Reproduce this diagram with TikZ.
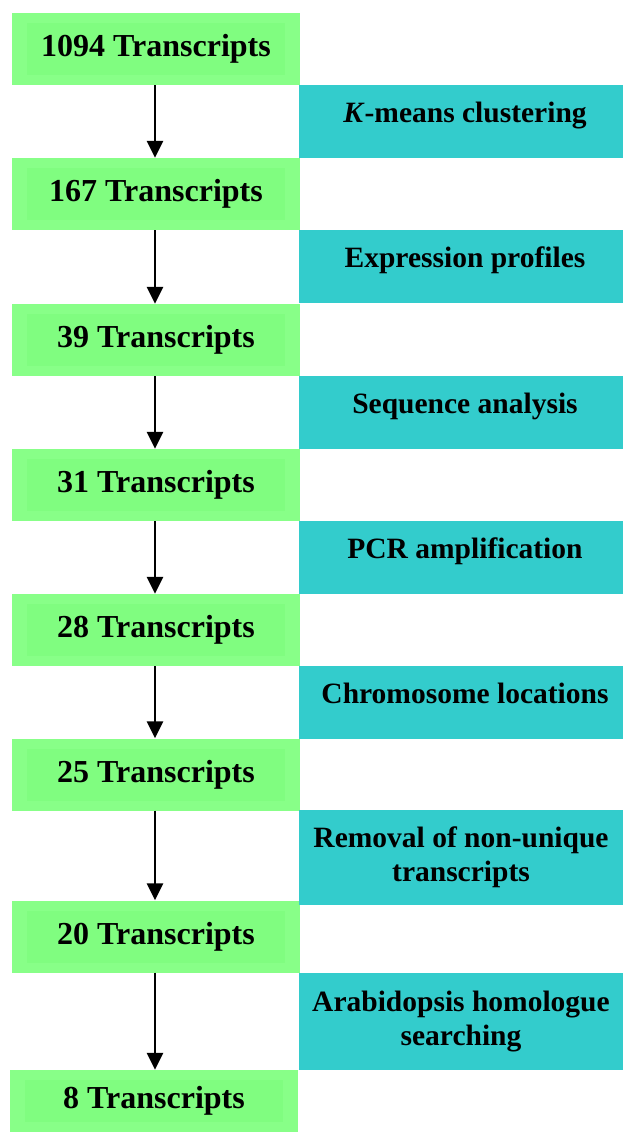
\documentclass[tikz,border=0pt]{standalone}
\usepackage{fontspec}
\setmainfont{Liberation Serif}
\usetikzlibrary{arrows.meta}
\definecolor{gout}{HTML}{88FF88}
\definecolor{ginn}{HTML}{80FD80}
\definecolor{teal}{HTML}{33CCCC}
\tikzset{
  gbox/.style={fill=gout, minimum width=288pt, minimum height=72pt, inner sep=0pt,
    font=\fontsize{32}{36}\selectfont\bfseries,
    path picture={\fill[ginn] ([xshift=15pt,yshift=-10pt]path picture bounding box.north west) rectangle ([xshift=-15pt,yshift=10pt]path picture bounding box.south east);}},
  tbox/.style={fill=teal, minimum width=324pt, minimum height=73pt, inner sep=0pt,
    align=center, font=\fontsize{29.5}{34}\selectfont\bfseries},
  tone/.style={tbox, text depth=18pt},
  flow/.style={line width=2.5pt, -{Triangle[width=16pt,length=17pt]}}
}
\begin{document}
\begin{tikzpicture}[x=1pt,y=-1pt]
\useasboundingbox (0,0) rectangle (623,1133);
\node[gbox] (g1) at (156,49) {1094 Transcripts};
\node[gbox] (g2) at (156,194) {167 Transcripts};
\node[gbox] (g3) at (156,340) {39 Transcripts};
\node[gbox] (g4) at (156,485) {31 Transcripts};
\node[gbox] (g5) at (156,630) {28 Transcripts};
\node[gbox] (g6) at (156,774.5) {25 Transcripts};
\node[gbox] (g7) at (156,936.5) {20 Transcripts};
\node[gbox, minimum height=62pt] (g8) at (154,1101) {8 Transcripts};
\node[tone] (t1) at (461,121.5) {\hspace*{8pt}\textit{K}-means clustering};
\node[tone] (t2) at (461,266.5) {\hspace*{8pt}Expression profiles};
\node[tone] (t3) at (461,412.5) {\hspace*{8pt}Sequence analysis};
\node[tone] (t4) at (461,557.5) {\hspace*{8pt}PCR amplification};
\node[tone] (t5) at (461,702.5) {\hspace*{8pt}Chromosome locations};
\node[tbox, minimum height=95pt] (t6) at (461,857.5) {Removal of non-unique\\transcripts};
\node[tbox, minimum height=97pt] (t7) at (461,1021.5) {Arabidopsis homologue\\searching};
\foreach \a/\b in {g1/g2,g2/g3,g3/g4,g4/g5,g5/g6,g6/g7,g7/g8}
  \draw[flow] (\a.south -| 155,0) -- (\b.north -| 155,0);
\end{tikzpicture}
\end{document}
